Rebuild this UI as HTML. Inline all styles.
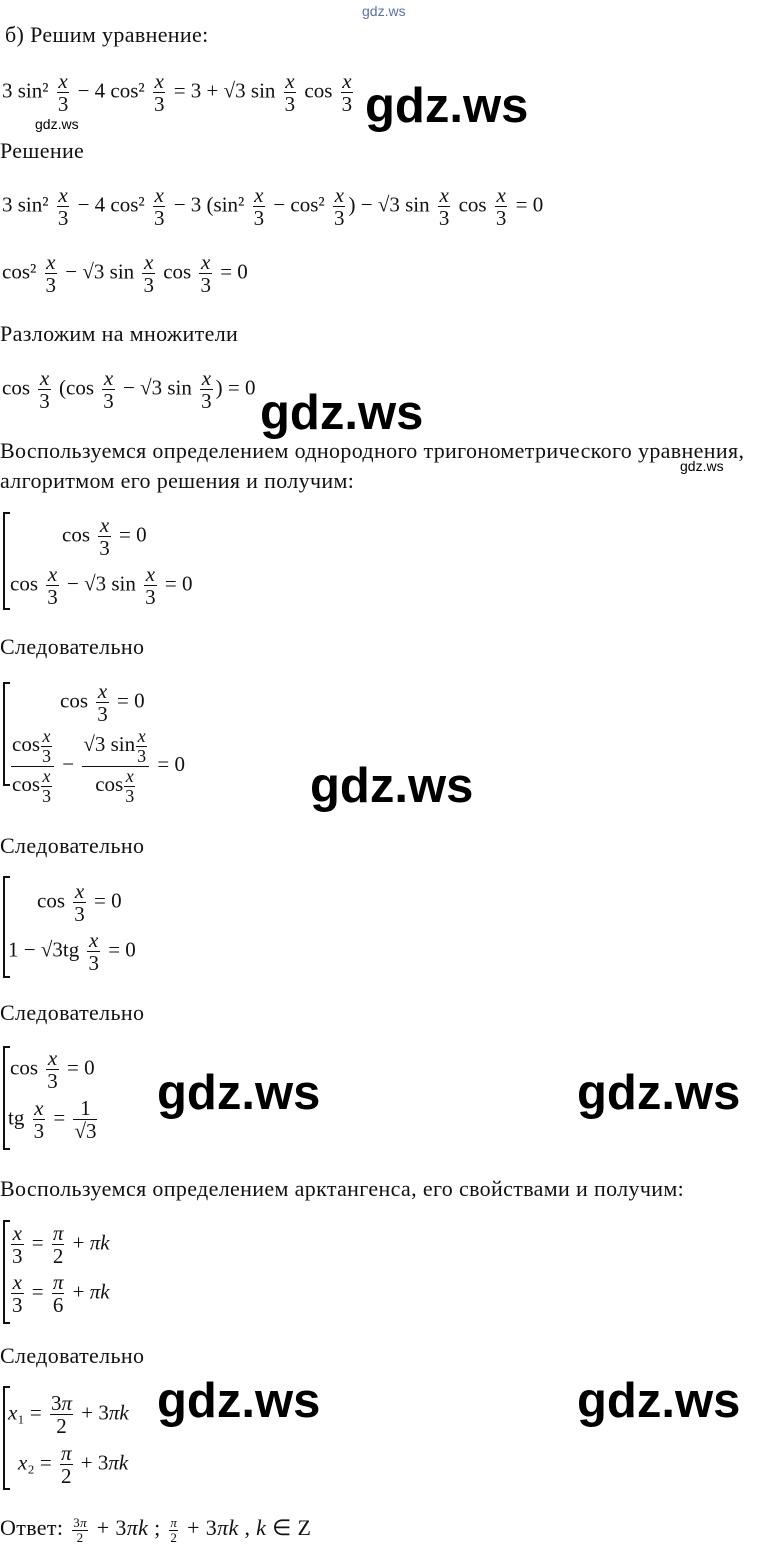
<!DOCTYPE html>
<html><head><meta charset="utf-8"><style>
body{margin:0;width:779px;height:1545px;background:#fff;position:relative;overflow:hidden;font-family:"Liberation Serif",serif;font-size:21px;color:#111}
.a{position:absolute;white-space:nowrap;line-height:1}
.p{position:absolute;white-space:nowrap;line-height:1;font-size:22px;letter-spacing:0.35px}
.f{display:inline-block;vertical-align:middle;text-align:center;margin:0 3px;line-height:1.05}
.f>span{display:block;padding:0 1px}
.f>span:first-child{border-bottom:1.4px solid #111;font-style:italic}
.f.n>span:first-child{font-style:normal}
.w{position:absolute;font-family:"Liberation Sans",sans-serif;font-weight:bold;font-size:49px;color:#000;line-height:1}
.s{position:absolute;font-family:"Liberation Sans",sans-serif;font-size:14px;color:#000;line-height:1}
.br{position:absolute;border-left:2px solid #111;border-top:2px solid #111;border-bottom:2px solid #111;width:5px}
.f .f{font-size:18px;margin:0 1px}
.f .f>span:first-child{font-style:italic}
</style></head><body>
<div class="s" style="left:362px;top:4px;color:#5a6fb0">gdz.ws</div>
<div class="p" style="left:5px;top:24px">б) Решим уравнение:</div>
<div class="a" style="left:2px;top:70px">3 sin² <span class="f"><span>x</span><span>3</span></span> − 4 cos² <span class="f"><span>x</span><span>3</span></span> = 3 + √3 sin <span class="f"><span>x</span><span>3</span></span> cos <span class="f"><span>x</span><span>3</span></span></div>
<div class="w" style="left:365px;top:82px">gdz.ws</div>
<div class="s" style="left:35px;top:117px">gdz.ws</div>
<div class="p" style="left:0;top:140px">Решение</div>
<div class="a" style="left:2px;top:184px">3 sin² <span class="f"><span>x</span><span>3</span></span> − 4 cos² <span class="f"><span>x</span><span>3</span></span> − 3 (sin² <span class="f"><span>x</span><span>3</span></span> − cos² <span class="f"><span>x</span><span>3</span></span>) − √3 sin <span class="f"><span>x</span><span>3</span></span> cos <span class="f"><span>x</span><span>3</span></span> = 0</div>
<div class="a" style="left:2px;top:251px">cos² <span class="f"><span>x</span><span>3</span></span> − √3 sin <span class="f"><span>x</span><span>3</span></span> cos <span class="f"><span>x</span><span>3</span></span> = 0</div>
<div class="p" style="left:0;top:323px">Разложим на множители</div>
<div class="a" style="left:2px;top:367px">cos <span class="f"><span>x</span><span>3</span></span> (cos <span class="f"><span>x</span><span>3</span></span> − √3 sin <span class="f"><span>x</span><span>3</span></span>) = 0</div>
<div class="w" style="left:260px;top:389px">gdz.ws</div>
<div class="p" style="left:0;top:440px">Воспользуемся определением однородного тригонометрического уравнения,</div>
<div class="s" style="left:680px;top:459px">gdz.ws</div>
<div class="p" style="left:0;top:470px">алгоритмом его решения и получим:</div>

<div class="br" style="left:3px;top:512px;height:94px"></div>
<div class="a" style="left:62px;top:514px">cos <span class="f"><span>x</span><span>3</span></span> = 0</div>
<div class="a" style="left:10px;top:563px">cos <span class="f"><span>x</span><span>3</span></span> − √3 sin <span class="f"><span>x</span><span>3</span></span> = 0</div>

<div class="p" style="left:0;top:636px">Следовательно</div>
<div class="br" style="left:3px;top:682px;height:100px"></div>
<div class="a" style="left:60px;top:680px">cos <span class="f"><span>x</span><span>3</span></span> = 0</div>
<div class="a" style="left:8px;top:727px"><span class="f n"><span>cos<span class="f"><span>x</span><span>3</span></span></span><span>cos<span class="f"><span>x</span><span>3</span></span></span></span> − <span class="f n"><span>√3 sin<span class="f"><span>x</span><span>3</span></span></span><span>cos<span class="f"><span>x</span><span>3</span></span></span></span> = 0</div>
<div class="w" style="left:310px;top:762px">gdz.ws</div>

<div class="p" style="left:0;top:835px">Следовательно</div>
<div class="br" style="left:3px;top:876px;height:98px"></div>
<div class="a" style="left:37px;top:880px">cos <span class="f"><span>x</span><span>3</span></span> = 0</div>
<div class="a" style="left:8px;top:929px">1 − √3tg <span class="f"><span>x</span><span>3</span></span> = 0</div>

<div class="p" style="left:0;top:1002px">Следовательно</div>
<div class="br" style="left:3px;top:1046px;height:100px"></div>
<div class="a" style="left:10px;top:1047px">cos <span class="f"><span>x</span><span>3</span></span> = 0</div>
<div class="a" style="left:8px;top:1097px">tg <span class="f"><span>x</span><span>3</span></span> = <span class="f n"><span>1</span><span>√3</span></span></div>
<div class="w" style="left:157px;top:1069px">gdz.ws</div>
<div class="w" style="left:577px;top:1069px">gdz.ws</div>

<div class="p" style="left:0;top:1178px">Воспользуемся определением арктангенса, его свойствами и получим:</div>
<div class="br" style="left:3px;top:1220px;height:100px"></div>
<div class="a" style="left:8px;top:1222px"><span class="f"><span>x</span><span>3</span></span> = <span class="f"><span>π</span><span style="font-style:normal">2</span></span> + <i>πk</i></div>
<div class="a" style="left:8px;top:1271px"><span class="f"><span>x</span><span>3</span></span> = <span class="f"><span>π</span><span style="font-style:normal">6</span></span> + <i>πk</i></div>

<div class="p" style="left:0;top:1345px">Следовательно</div>
<div class="br" style="left:3px;top:1386px;height:100px"></div>
<div class="a" style="left:8px;top:1392px"><i>x</i>₁ = <span class="f n"><span>3<i>π</i></span><span>2</span></span> + 3<i>πk</i></div>
<div class="a" style="left:18px;top:1442px"><i>x</i>₂ = <span class="f n"><span><i>π</i></span><span>2</span></span> + 3<i>πk</i></div>
<div class="w" style="left:157px;top:1377px">gdz.ws</div>
<div class="w" style="left:577px;top:1377px">gdz.ws</div>

<div class="p" style="left:0;top:1516px">Ответ: <span class="f n" style="font-size:13px"><span>3<i>π</i></span><span>2</span></span> + 3<i>πk</i> ; <span class="f n" style="font-size:13px"><span><i>π</i></span><span>2</span></span> + 3<i>πk</i> , <i>k</i> ∈ Z</div>
</body></html>
